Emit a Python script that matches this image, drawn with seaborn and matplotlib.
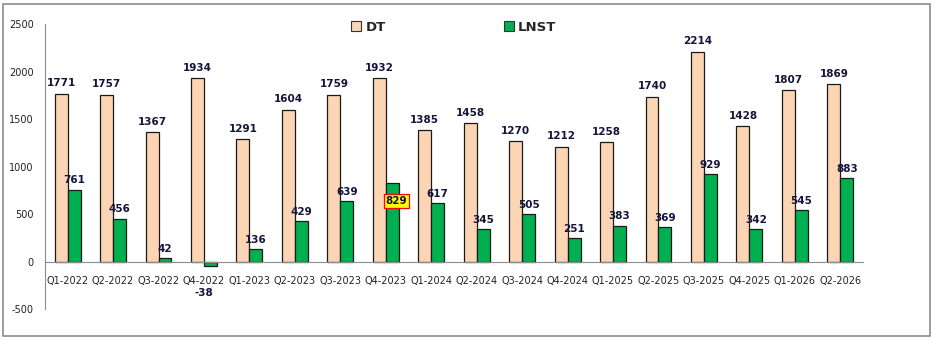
import pandas as pd
import numpy as np
import matplotlib.pyplot as plt
import seaborn as sns
from matplotlib.patches import Rectangle

quarters = ["Q1-2022", "Q2-2022", "Q3-2022", "Q4-2022", "Q1-2023", "Q2-2023",
            "Q3-2023", "Q4-2023", "Q1-2024", "Q2-2024", "Q3-2024", "Q4-2024",
            "Q1-2025", "Q2-2025", "Q3-2025", "Q4-2025", "Q1-2026", "Q2-2026"]
dt = [1771, 1757, 1367, 1934, 1291, 1604, 1759, 1932, 1385, 1458, 1270, 1212,
      1258, 1740, 2214, 1428, 1807, 1869]
lnst = [761, 456, 42, -38, 136, 429, 639, 829, 617, 345, 505, 251,
        383, 369, 929, 342, 545, 883]
highlight = "Q4-2023"

df = pd.DataFrame({"quarter": quarters * 2,
                   "value": dt + lnst,
                   "series": ["DT"] * len(dt) + ["LNST"] * len(lnst)})

sns.set_style("white")
plt.rcParams["font.family"] = ["DejaVu Sans"]
plt.rcParams["axes.unicode_minus"] = False

fig = plt.figure(figsize=(9.35, 3.4), dpi=100)
ax = fig.add_axes([0.048, 0.09, 0.875, 0.838])

sns.barplot(data=df, x="quarter", y="value", hue="series", order=quarters,
            hue_order=["DT", "LNST"],
            palette={"DT": "#FCD5B4", "LNST": "#00B050"}, saturation=1,
            width=0.57, edgecolor="#1a1a1a", linewidth=0.9, ax=ax)

label_color = "#14143c"
dt_bars, lnst_bars = ax.containers[0], ax.containers[1]
ax.bar_label(dt_bars, labels=[str(v) for v in dt], padding=4,
             fontsize=7.5, fontweight="bold", color=label_color)
lnst_labels = ["" if (v < 0 or q == highlight) else str(v)
               for q, v in zip(quarters, lnst)]
ax.bar_label(lnst_bars, labels=lnst_labels, padding=3,
             fontsize=7.5, fontweight="bold", color=label_color)

for q, v, bar in zip(quarters, lnst, lnst_bars):
    cx = bar.get_x() + bar.get_width() / 2
    if v < 0:
        ax.annotate(str(v), xy=(cx - 0.15, v), xytext=(0, -16), textcoords="offset points",
                    ha="center", va="top", fontsize=7.5, fontweight="bold",
                    color=label_color)
    elif q == highlight:
        ax.annotate(str(v), xy=(cx, v), xytext=(3, -9), textcoords="offset points",
                    ha="center", va="top", fontsize=7.5, fontweight="bold",
                    color=label_color,
                    bbox=dict(boxstyle="square,pad=0.2", fc="#FFFF00", ec="red", lw=0.9))

ax.set_ylim(-500, 2500)
ax.set_yticks(np.arange(-500, 2501, 500))
ax.set_xlim(-0.5, len(quarters) - 0.5)
ax.set_xlabel("")
ax.set_ylabel("")

for s in ["top", "right"]:
    ax.spines[s].set_visible(False)
ax.spines["left"].set_color("#8c8c8c")
ax.spines["bottom"].set_color("#8c8c8c")
ax.spines["bottom"].set_position(("data", 0))
ax.spines["left"].set_bounds(-500, 2500)

ax.tick_params(axis="y", which="major", direction="out", length=4, color="#8c8c8c",
               labelsize=7, labelcolor="#222222", pad=4)
ax.tick_params(axis="x", which="major", length=0, labelsize=7,
               labelcolor="#222222", pad=10)
ax.set_xticks(np.arange(-0.5, len(quarters), 1.0), minor=True)
ax.tick_params(axis="x", which="minor", direction="out", length=4, color="#8c8c8c")

leg = ax.legend(loc="upper center", bbox_to_anchor=(0.50, 1.055), ncol=2,
                frameon=False, columnspacing=9, handlelength=0.75,
                handleheight=0.75, handletextpad=0.3,
                prop={"weight": "bold", "size": 9.5})
for h in leg.legend_handles:
    h.set_edgecolor("#333333")
    h.set_linewidth(0.8)

fig.patches.append(Rectangle((0.003, 0.012), 0.992, 0.975, transform=fig.transFigure,
                             fill=False, edgecolor="#8c8c8c", linewidth=1.2))

fig.savefig("out.png", dpi=100)
